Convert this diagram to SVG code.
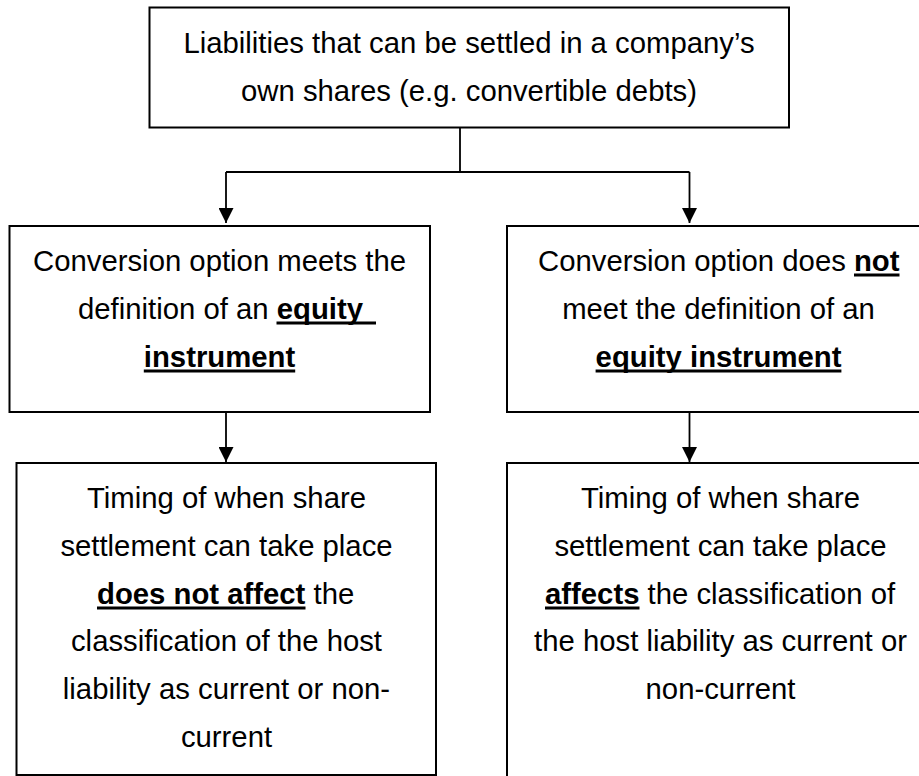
<svg xmlns="http://www.w3.org/2000/svg" width="919" height="776" viewBox="0 0 919 776">
  <style>
    .box { fill: #ffffff; stroke: #000000; stroke-width: 2; }
    .conn { fill: none; stroke: #000000; stroke-width: 1.8; }
    .t { font-family: "Liberation Sans", Arial, sans-serif; font-size: 29.3px; fill: #000000; }
    .mid { text-anchor: middle; }
    .b { font-weight: bold; }
    .ul { stroke: #000000; stroke-width: 3; }
  </style>
  <defs>
    <marker id="arrow" markerUnits="userSpaceOnUse" markerWidth="15" markerHeight="15" refX="15" refY="7.5" orient="auto">
      <path d="M0,0 L15,7.5 L0,15 z" fill="#000000"/>
    </marker>
  </defs>
  <rect width="919" height="776" fill="#ffffff"/>

  <!-- connectors -->
  <g id="connectors">
    <path class="conn" d="M460,127.5 V172 M226,172 H689.5"/>
    <path class="conn" d="M226,172 V223" marker-end="url(#arrow)"/>
    <path class="conn" d="M689.5,172 V223" marker-end="url(#arrow)"/>
    <path class="conn" d="M226,412 V462" marker-end="url(#arrow)"/>
    <path class="conn" d="M689.5,412 V462" marker-end="url(#arrow)"/>
  </g>

  <!-- root: liabilities settled in own shares -->
  <g id="root">
    <rect class="box" x="149.5" y="7.5" width="639.5" height="120"/>
    <text class="t mid" x="469" y="52.5">Liabilities that can be settled in a company’s</text>
    <text class="t mid" x="469" y="100.5">own shares (e.g. convertible debts)</text>
  </g>

  <!-- conversion option meets equity definition -->
  <g id="equity">
    <rect class="box" x="9.5" y="226" width="420.5" height="186"/>
    <text class="t mid" x="219.5" y="270.5">Conversion option meets the</text>
    <text class="t" x="78" y="318.5">definition of an <tspan class="b">equity&#160;</tspan></text>
    <line class="ul" x1="276.5" y1="323" x2="376" y2="323"/>
    <text class="t mid b" x="219.5" y="366.5">instrument</text>
    <line class="ul" x1="143.8" y1="371" x2="295.2" y2="371"/>
  </g>

  <!-- conversion option does not meet equity definition -->
  <g id="not-equity">
    <rect class="box" x="507" y="226" width="430" height="186"/>
    <text class="t" x="538" y="270.5">Conversion option does <tspan class="b">not</tspan></text>
    <line class="ul" x1="854" y1="275" x2="899.5" y2="275"/>
    <text class="t mid" x="718.5" y="318.5">meet the definition of an</text>
    <text class="t mid b" x="718.5" y="366.5">equity instrument</text>
    <line class="ul" x1="595.6" y1="371" x2="841.4" y2="371"/>
  </g>

  <!-- timing does not affect classification -->
  <g id="no-effect">
    <rect class="box" x="16.5" y="463" width="419.5" height="312"/>
    <text class="t mid" x="226.5" y="508">Timing of when share</text>
    <text class="t mid" x="226.5" y="555.8">settlement can take place</text>
    <text class="t" x="97" y="603.6"><tspan class="b">does not affect</tspan> the</text>
    <line class="ul" x1="97" y1="608" x2="305.5" y2="608"/>
    <text class="t mid" x="226.5" y="651.4">classification of the host</text>
    <text class="t mid" x="226.5" y="699.2">liability as current or non-</text>
    <text class="t mid" x="226.5" y="747">current</text>
  </g>

  <!-- timing affects classification -->
  <g id="effect">
    <rect class="box" x="507" y="463" width="430" height="340"/>
    <text class="t mid" x="720.5" y="508">Timing of when share</text>
    <text class="t mid" x="720.5" y="555.8">settlement can take place</text>
    <text class="t" x="545" y="603.6"><tspan class="b">affects</tspan> the classification of</text>
    <line class="ul" x1="545" y1="608" x2="639.5" y2="608"/>
    <text class="t mid" x="720.5" y="651.4">the host liability as current or</text>
    <text class="t mid" x="720.5" y="699.2">non-current</text>
  </g>
</svg>
